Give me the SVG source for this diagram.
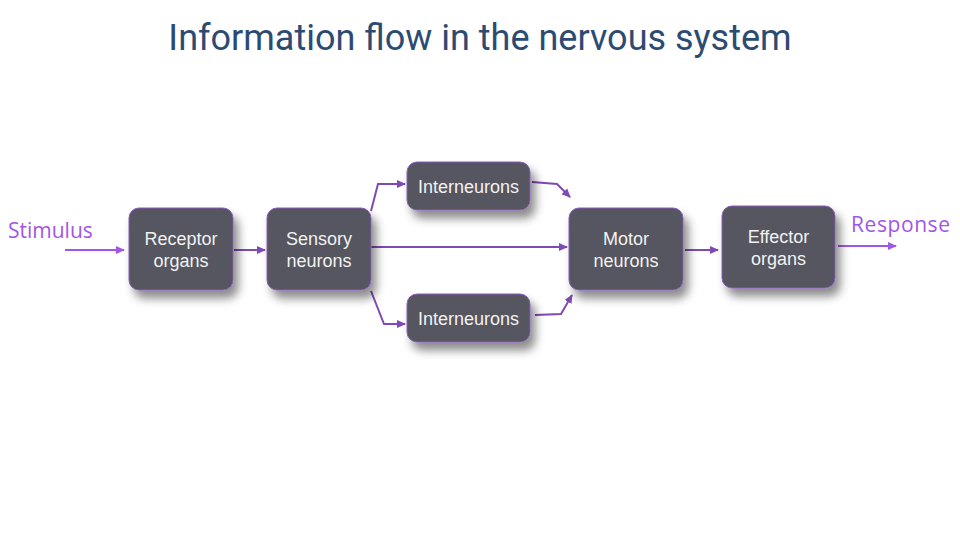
<svg xmlns="http://www.w3.org/2000/svg" width="960" height="540" viewBox="0 0 960 540">
<defs>
<filter id="sh" x="-20%" y="-20%" width="160%" height="170%">
<feDropShadow dx="5" dy="8" stdDeviation="5" flood-color="#000" flood-opacity="0.45"/>
</filter>
<marker id="ad" markerWidth="10" markerHeight="10" refX="8" refY="5" orient="auto" markerUnits="userSpaceOnUse">
<path d="M0,1 L9,5 L0,9 Z" fill="#7d4bb3"/>
</marker>
<marker id="ab" markerWidth="10" markerHeight="10" refX="8" refY="5" orient="auto" markerUnits="userSpaceOnUse">
<path d="M0,1 L9,5 L0,9 Z" fill="#a056e8"/>
</marker>
</defs>
<style>
.node rect{fill:#54565e;stroke:#8a5cc0;stroke-width:1;filter:url(#sh)}
.node text{fill:#f2f2f2;font-family:"Liberation Sans",Arial,sans-serif;font-size:18px;text-anchor:middle}
.c{fill:none;stroke:#7d4bb3;stroke-width:2;marker-end:url(#ad)}
.cb{fill:none;stroke:#a056e8;stroke-width:2;marker-end:url(#ab)}
.lbl{fill:#a056e8;font-family:"Open Sans","Liberation Sans",sans-serif;font-size:21px}
</style>
<rect width="960" height="540" fill="#fff"/>
<text x="480" y="50" text-anchor="middle" font-family="Roboto,'Liberation Sans',sans-serif" font-size="36" fill="#2c4b73">Information flow in the nervous system</text>
<g id="connectors">
<path class="cb" d="M65,250 L124,250"/>
<path class="c" d="M234,250 L265,250"/>
<path class="c" d="M371,211 L378,184 L405,184"/>
<path class="c" d="M371,247 L567,247"/>
<path class="c" d="M371,291 L384,324 L405,324"/>
<path class="c" d="M532,182 L557,184 L570,197"/>
<path class="c" d="M535,315 L561,314 L572,295"/>
<path class="c" d="M685,250 L718,250"/>
<path class="cb" d="M838,246 L896,246"/>
</g>
<text class="lbl" x="8" y="238">Stimulus</text>
<text class="lbl" x="851" y="232" textLength="99">Response</text>
<g id="receptor" class="node"><rect x="129" y="208" width="104" height="82" rx="10"/><text x="181" y="245">Receptor</text><text x="181" y="267">organs</text></g>
<g id="sensory" class="node"><rect x="267" y="208" width="104" height="82" rx="10"/><text x="319" y="245">Sensory</text><text x="319" y="267">neurons</text></g>
<g id="inter-top" class="node"><rect x="407" y="162" width="123" height="48" rx="10"/><text x="468.5" y="193">Interneurons</text></g>
<g id="inter-bottom" class="node"><rect x="407" y="294" width="123" height="48" rx="10"/><text x="468.5" y="325">Interneurons</text></g>
<g id="motor" class="node"><rect x="569" y="208" width="114" height="82" rx="10"/><text x="626" y="245">Motor</text><text x="626" y="267">neurons</text></g>
<g id="effector" class="node"><rect x="722" y="206" width="113" height="82" rx="10"/><text x="778.5" y="243">Effector</text><text x="778.5" y="265">organs</text></g>
</svg>
